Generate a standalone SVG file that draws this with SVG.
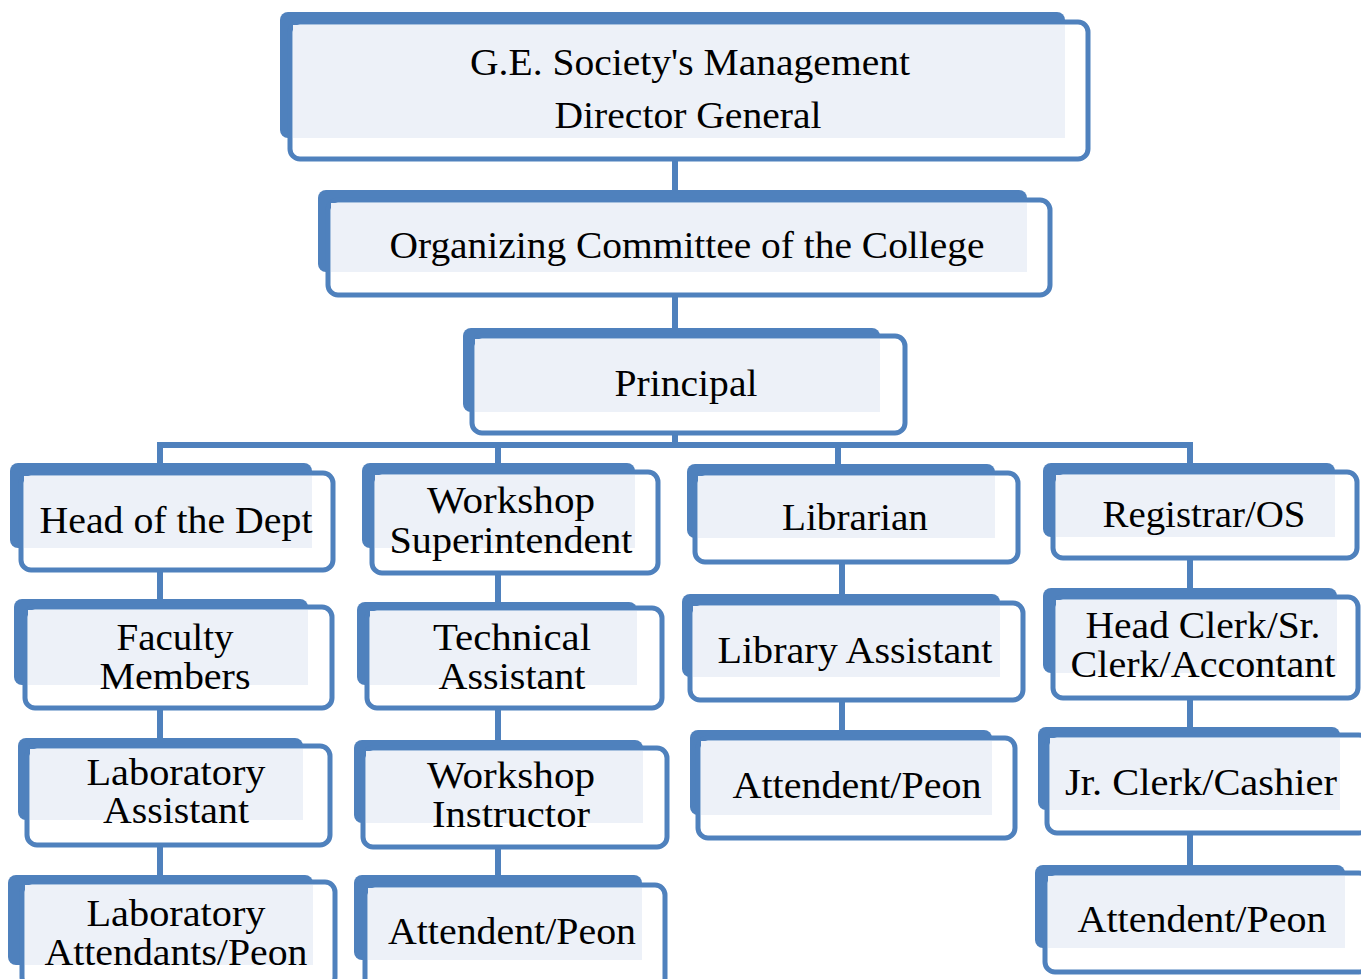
<svg xmlns="http://www.w3.org/2000/svg" width="1361" height="979" viewBox="0 0 1361 979">
<style>
.bk{fill:#4F81BD}
.fr{fill:#FFFFFF;stroke:#4F81BD;stroke-width:5}
.lt{fill:#EDF1F8}
.cn{stroke:#4F81BD;stroke-width:6;fill:none}
text{font-family:"Liberation Serif","Times New Roman",serif;font-size:38px;fill:#000;text-anchor:middle}
</style>
<rect width="1361" height="979" fill="#FFFFFF"/>
<g id="connectors">
<path class="cn" d="M675 160V200M675 295V338M675 433V445M157 445H1193M160 445V473M498 445V472M838 445V473M1190 445V473"/>
<path class="cn" d="M160 570V607M160 708V746M160 845V882"/>
<path class="cn" d="M498 573V608M498 708V748M498 847V885"/>
<path class="cn" d="M842 562V603M842 700V738"/>
<path class="cn" d="M1190 558V597M1190 698V735M1190 833V873"/>
</g>
<g id="n-management">
<rect class="bk" x="280" y="12" width="785" height="126" rx="8"/>
<rect class="fr" x="290" y="22" width="798" height="137" rx="10"/>
<rect class="lt" x="293" y="25" width="772" height="113"/>
<text x="690" y="75" textLength="440" lengthAdjust="spacingAndGlyphs">G.E. Society's Management</text>
<text x="688" y="128" textLength="267" lengthAdjust="spacingAndGlyphs">Director General</text>
</g>
<g id="n-committee">
<rect class="bk" x="318" y="190" width="709" height="82" rx="8"/>
<rect class="fr" x="328" y="200" width="722" height="95" rx="10"/>
<rect class="lt" x="331" y="203" width="696" height="69"/>
<text x="687" y="258" textLength="595" lengthAdjust="spacingAndGlyphs">Organizing Committee of the College</text>
</g>
<g id="n-principal">
<rect class="bk" x="463" y="328" width="417" height="84" rx="8"/>
<rect class="fr" x="472" y="336" width="433" height="97" rx="10"/>
<rect class="lt" x="475" y="339" width="405" height="73"/>
<text x="686" y="396" textLength="143" lengthAdjust="spacingAndGlyphs">Principal</text>
</g>
<g id="n-hod">
<rect class="bk" x="10" y="463" width="302" height="85" rx="8"/>
<rect class="fr" x="21" y="473" width="312" height="97" rx="10"/>
<rect class="lt" x="24" y="476" width="288" height="72"/>
<text x="176" y="533" textLength="273" lengthAdjust="spacingAndGlyphs">Head of the Dept</text>
</g>
<g id="n-faculty">
<rect class="bk" x="14" y="599" width="294" height="86" rx="8"/>
<rect class="fr" x="25" y="607" width="307" height="101" rx="10"/>
<rect class="lt" x="28" y="610" width="280" height="75"/>
<text x="175" y="650" textLength="117" lengthAdjust="spacingAndGlyphs">Faculty</text>
<text x="175" y="689" textLength="151" lengthAdjust="spacingAndGlyphs">Members</text>
</g>
<g id="n-labassistant">
<rect class="bk" x="18" y="738" width="285" height="82" rx="8"/>
<rect class="fr" x="27" y="746" width="303" height="99" rx="10"/>
<rect class="lt" x="30" y="749" width="273" height="71"/>
<text x="176" y="785" textLength="179" lengthAdjust="spacingAndGlyphs">Laboratory</text>
<text x="176" y="823" textLength="146" lengthAdjust="spacingAndGlyphs">Assistant</text>
</g>
<g id="n-labattendants">
<rect class="bk" x="8" y="875" width="305" height="90" rx="8"/>
<rect class="fr" x="22" y="882" width="313" height="105" rx="10"/>
<rect class="lt" x="25" y="885" width="288" height="80"/>
<text x="176" y="926" textLength="179" lengthAdjust="spacingAndGlyphs">Laboratory</text>
<text x="176" y="965" textLength="263" lengthAdjust="spacingAndGlyphs">Attendants/Peon</text>
</g>
<g id="n-wsuper">
<rect class="bk" x="362" y="463" width="273" height="85" rx="8"/>
<rect class="fr" x="372" y="472" width="286" height="101" rx="10"/>
<rect class="lt" x="375" y="475" width="260" height="73"/>
<text x="511" y="513" textLength="168" lengthAdjust="spacingAndGlyphs">Workshop</text>
<text x="511" y="553" textLength="243" lengthAdjust="spacingAndGlyphs">Superintendent</text>
</g>
<g id="n-tech">
<rect class="bk" x="357" y="602" width="280" height="83" rx="8"/>
<rect class="fr" x="367" y="608" width="295" height="100" rx="10"/>
<rect class="lt" x="370" y="611" width="267" height="74"/>
<text x="512" y="650" textLength="158" lengthAdjust="spacingAndGlyphs">Technical</text>
<text x="512" y="689" textLength="147" lengthAdjust="spacingAndGlyphs">Assistant</text>
</g>
<g id="n-winstructor">
<rect class="bk" x="354" y="740" width="289" height="83" rx="8"/>
<rect class="fr" x="363" y="748" width="304" height="99" rx="10"/>
<rect class="lt" x="366" y="751" width="277" height="72"/>
<text x="511" y="788" textLength="168" lengthAdjust="spacingAndGlyphs">Workshop</text>
<text x="511" y="827" textLength="158" lengthAdjust="spacingAndGlyphs">Instructor</text>
</g>
<g id="n-wpeon">
<rect class="bk" x="354" y="875" width="288" height="85" rx="8"/>
<rect class="fr" x="365" y="885" width="300" height="105" rx="10"/>
<rect class="lt" x="368" y="888" width="274" height="72"/>
<text x="512" y="944" textLength="248" lengthAdjust="spacingAndGlyphs">Attendent/Peon</text>
</g>
<g id="n-librarian">
<rect class="bk" x="687" y="464" width="308" height="74" rx="8"/>
<rect class="fr" x="695" y="473" width="323" height="89" rx="10"/>
<rect class="lt" x="698" y="476" width="297" height="62"/>
<text x="855" y="530" textLength="146" lengthAdjust="spacingAndGlyphs">Librarian</text>
</g>
<g id="n-libassistant">
<rect class="bk" x="682" y="594" width="318" height="83" rx="8"/>
<rect class="fr" x="690" y="603" width="333" height="97" rx="10"/>
<rect class="lt" x="693" y="606" width="307" height="71"/>
<text x="855" y="663" textLength="275" lengthAdjust="spacingAndGlyphs">Library Assistant</text>
</g>
<g id="n-lpeon">
<rect class="bk" x="690" y="730" width="302" height="85" rx="8"/>
<rect class="fr" x="698" y="738" width="317" height="100" rx="10"/>
<rect class="lt" x="701" y="741" width="291" height="74"/>
<text x="857" y="798" textLength="249" lengthAdjust="spacingAndGlyphs">Attendent/Peon</text>
</g>
<g id="n-registrar">
<rect class="bk" x="1043" y="463" width="292" height="74" rx="8"/>
<rect class="fr" x="1053" y="472" width="304" height="86" rx="10"/>
<rect class="lt" x="1056" y="475" width="279" height="62"/>
<text x="1204" y="527" textLength="203" lengthAdjust="spacingAndGlyphs">Registrar/OS</text>
</g>
<g id="n-headclerk">
<rect class="bk" x="1043" y="588" width="294" height="85" rx="8"/>
<rect class="fr" x="1053" y="597" width="305" height="101" rx="10"/>
<rect class="lt" x="1056" y="600" width="281" height="73"/>
<text x="1203" y="638" textLength="235" lengthAdjust="spacingAndGlyphs">Head Clerk/Sr.</text>
<text x="1203" y="677" textLength="265" lengthAdjust="spacingAndGlyphs">Clerk/Accontant</text>
</g>
<g id="n-jrclerk">
<rect class="bk" x="1038" y="727" width="302" height="83" rx="8"/>
<rect class="fr" x="1047" y="735" width="322" height="98" rx="10"/>
<rect class="lt" x="1050" y="738" width="290" height="72"/>
<text x="1201" y="795" textLength="272" lengthAdjust="spacingAndGlyphs">Jr. Clerk/Cashier</text>
</g>
<g id="n-rpeon">
<rect class="bk" x="1035" y="865" width="310" height="83" rx="8"/>
<rect class="fr" x="1045" y="873" width="324" height="99" rx="10"/>
<rect class="lt" x="1048" y="876" width="297" height="72"/>
<text x="1202" y="932" textLength="249" lengthAdjust="spacingAndGlyphs">Attendent/Peon</text>
</g>
</svg>
